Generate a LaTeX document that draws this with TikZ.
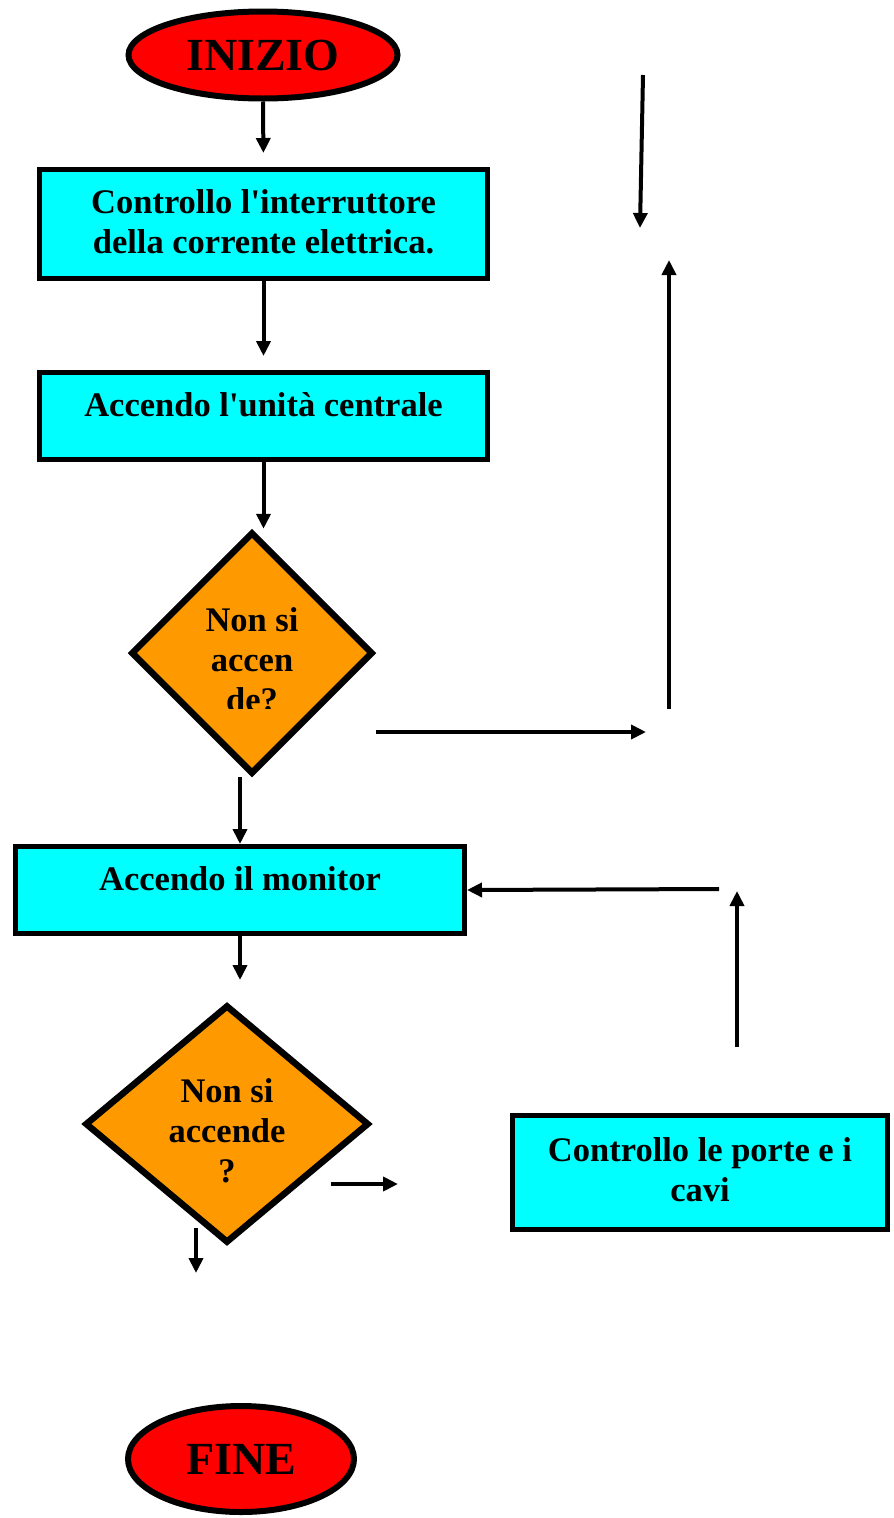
\documentclass[tikz,border=0pt]{standalone}
\usepackage{fontspec}
\setmainfont{Liberation Serif}
\usetikzlibrary{shapes.geometric, arrows.meta}

\definecolor{orangefill}{HTML}{FF9900}
\definecolor{boxfill}{HTML}{00FFFF}
\definecolor{endfill}{HTML}{FF0000}

\tikzset{
    terminal/.style={ellipse, draw, line width=6pt, fill=endfill, inner sep=0pt,
        font=\fontsize{46}{50}\selectfont\bfseries},
    box/.style={rectangle, draw, line width=5pt, fill=boxfill, inner sep=0pt},
    boxtext/.style={align=center, inner sep=0pt,
        font=\fontsize{34.5}{40}\selectfont\bfseries},
    decision/.style={diamond, draw, line width=6.5pt, fill=orangefill, inner sep=0pt},
    flow/.style={line width=4pt, -{Triangle[length=15pt,width=14pt]}},
}

\begin{document}
\begin{tikzpicture}[x=1pt, y=-1pt]
        \useasboundingbox (0,0) rectangle (894,1518);

        % blocks
        \node[terminal, minimum width=269pt, minimum height=87pt] (ini) at (263,55) {\raisebox{-4pt}{INIZIO}};
        \node[box, minimum width=448pt, minimum height=109pt] (b1) at (263.5,224) {};
        \node[boxtext] (t1) at (263.5,222) {Controllo l\textquotesingle interruttore\\della corrente elettrica.};
        \node[box, minimum width=448pt, minimum height=87pt] (b2) at (263.5,416) {};
        \node[boxtext] (t2) at (263.5,405) {Accendo l\textquotesingle unità centrale};
        \node[decision, minimum width=242pt, minimum height=242pt] (dec1) at (252,653) {};
        \begin{scope}
            \clip (150,590) rectangle (350,708);
            \node[boxtext] (q1) at (252,660) {Non si\\accen\\de?};
        \end{scope}
        \node[box, minimum width=449pt, minimum height=87pt] (b3) at (240,890) {};
        \node[boxtext] (t3) at (240,879) {Accendo il monitor};
        \node[decision, minimum width=284pt, minimum height=238pt] (dec2) at (227,1124) {};
        \node[boxtext] (q2) at (227,1131) {Non si\\accende\\?};
        \node[box, minimum width=375pt, minimum height=114pt] (b4) at (700,1172.5) {};
        \node[boxtext] (t4) at (700,1170) {Controllo le porte e i\\cavi};
        \node[terminal, minimum width=226pt, minimum height=106pt] (fine) at (241,1459) {FINE};

        % free ends of the connectors
        \coordinate (s1) at (376,732);
        \coordinate (e1) at (646,732);
        \coordinate (s2) at (669,709);
        \coordinate (e2) at (669,260);
        \coordinate (s3) at (643,75);
        \coordinate (e3) at (640,228);
        \coordinate (s4) at (719,889);
        \coordinate (s5) at (737,1047);
        \coordinate (e5) at (737,891);
        \coordinate (e6) at (240,980);
        \coordinate (s7) at (331,1184);
        \coordinate (e7) at (398,1184);
        \coordinate (s8) at (196,1228);
        \coordinate (e8) at (196,1273);

        % connectors
        \draw[flow, shorten >=14pt] (ini.south) -- (b1.north);
        \draw[flow, shorten >=14pt] (b1.south) -- (b2.north);
        \draw[flow] (b2.south) -- (b2.south |- dec1.north);
        \draw[flow] (b3.north |- dec1.south) -- (b3.north);
        \draw[flow] (s1) -- (e1);
        \draw[flow] (s2) -- (e2);
        \draw[flow] (s3) -- (e3);
        \draw[flow] (s4) -- (b3.east);
        \draw[flow] (s5) -- (e5);
        \draw[flow] (b3.south) -- (e6);
        \draw[flow] (s7) -- (e7);
        \draw[flow] (s8) -- (e8);
\end{tikzpicture}
\end{document}
